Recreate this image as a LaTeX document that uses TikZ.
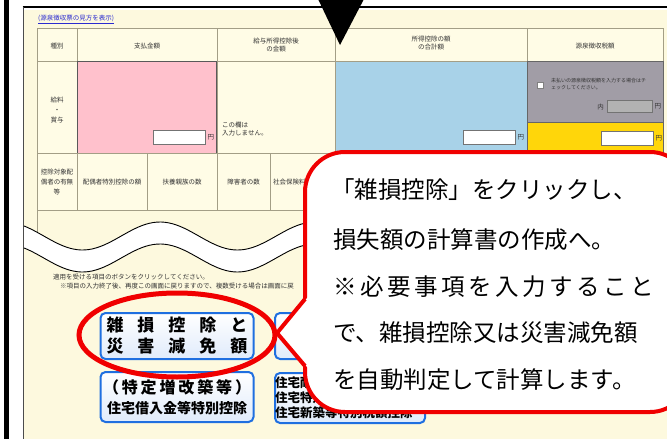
\documentclass[tikz,border=0pt]{standalone}
\usepackage{fontspec}
\newfontfamily\jp{Noto Sans CJK JP}
\usetikzlibrary{positioning}

\definecolor{panelcream}{HTML}{FDF9DE}
\definecolor{cellcream}{HTML}{FFFCE6}
\definecolor{gridline}{HTML}{A39E86}
\definecolor{paypink}{HTML}{FFC1CC}
\definecolor{dedblue}{HTML}{A8D2E8}
\definecolor{taxgray}{HTML}{A19DA6}
\definecolor{taxyellow}{HTML}{FFD60A}
\definecolor{linkblue}{HTML}{2B2BD0}
\definecolor{btnblue}{HTML}{1F6FE0}
\definecolor{markred}{HTML}{F00000}

\tikzset{
  cell/.style={draw=gridline, line width=0.8pt},
  tiny/.style={font=\jp\fontsize{6.5}{8.5}\selectfont, text=black!80, inner sep=0pt, align=center},
  inbox/.style={draw=black!55, fill=white, line width=0.8pt, minimum width=52pt, minimum height=14pt, inner sep=0pt},
  button/.style={draw=btnblue, line width=2pt, rounded corners=5pt, top color=white, bottom color=btnblue!14, inner sep=0pt, align=center},
  note/.style={font=\jp\fontsize{23.5}{23.5}\selectfont, inner sep=0pt, anchor=west},
  redline/.style={draw=markred, line width=4pt}
}

\begin{document}
\begin{tikzpicture}[x=1pt, y=-1pt]
  % Size of the screenshot
  \useasboundingbox (0,0) rectangle (667,439);
  \fill[white] (0,0) rectangle (667,439);

  % Frame of the screen
  \fill[black] (4,0) rectangle (8.5,439);
  \fill[panelcream] (23,10) rectangle (667,439);
  \draw[black, line width=1.6pt] (22.5,7) -- (667,7);
  \draw[black!70, line width=1pt] (23,7) -- (23,439);

  % Link above the table
  \node[tiny, text=linkblue, anchor=west] (srcLink) at (38,19) {\underline{(源泉徴収票の見方を表示)}};

  % Header row
  \foreach \xa/\xb in {37/77, 77/217, 217/335, 335/527, 527/663}
    \draw[cell, fill=cellcream] (\xa,28) rectangle (\xb,61);
  \node[tiny] (hKind) at (57,46) {種別};
  \node[tiny] (hPay) at (147,46) {支払金額};
  \node[tiny] (hAfter) at (276,45) {給与所得控除後\\の金額};
  \node[tiny] (hDed) at (431,43) {所得控除の額\\の合計額};
  \node[tiny] (hTax) at (595,46) {源泉徴収税額};

  % Body row
  \draw[cell, fill=cellcream] (37,61) rectangle (77,153);
  \draw[cell, fill=cellcream] (217,61) rectangle (335,153);
  \draw[draw=black!65, line width=0.8pt, fill=paypink] (77,61) rectangle (216,153);
  \draw[cell, fill=dedblue] (335,61) rectangle (527,153);
  \draw[draw=black!60, line width=0.8pt, fill=taxgray] (527,61) rectangle (663,122);
  \draw[draw=black!60, line width=0.8pt, fill=taxyellow] (527,122) rectangle (663,153);
  \node[tiny, font=\jp\fontsize{6.5}{10}\selectfont] (kindSalary) at (57,110) {給料\\・\\賞与};
  \node[tiny, anchor=west, align=left] (noInput) at (222,129) {この欄は\\入力しません。};

  % Input boxes
  \node[inbox] (payBox) at (179,137) {};
  \node[tiny, right=2pt of payBox] (payYen) {円};
  \node[inbox] (dedBox) at (489,137) {};
  \node[tiny, right=2pt of dedBox] (dedYen) {円};
  \node[inbox] (taxBox) at (627,138) {};
  \node[tiny, right=2pt of taxBox] (taxYen) {円};

  % Unpaid tax in the gray cell
  \node[draw=black!50, fill=white, minimum size=6pt, inner sep=0pt] (unpaidChk) at (540,85) {};
  \node[tiny, font=\jp\fontsize{5}{7}\selectfont, anchor=west, align=left] (unpaidText) at (551,84) {未払いの源泉徴収税額を入力する場合はチ\\ェックしてください。};
  \node[tiny, anchor=east] (unpaidIn) at (604,107) {内};
  \node[inbox, fill=black!30, minimum width=45pt, minimum height=12pt] (unpaidBox) at (629.5,106.5) {};
  \node[tiny, right=2pt of unpaidBox] (unpaidYen) {円};

  % Second header row
  \foreach \xa/\xb in {37/77, 77/147, 147/217, 217/270, 270/335, 335/527, 527/663}
    \draw[cell, fill=cellcream] (\xa,153) rectangle (\xb,210);
  \draw[cell] (37,210) -- (37,236);
  \node[tiny, font=\jp\fontsize{6.5}{10}\selectfont] (hSpouse) at (57,182) {控除対象配\\偶者の有無\\等};
  \node[tiny] (hSpecial) at (112,182) {配偶者特別控除の額};
  \node[tiny] (hFamily) at (182,182) {扶養親族の数};
  \node[tiny] (hDisabled) at (243.5,182) {障害者の数};
  \node[tiny, anchor=west] (hSocial) at (273,182) {社会保険料等の金額};

  % Wavy cut through the page
  \def\wk{2.3226}
  \fill[white] plot[domain=24:667, samples=170] (\x,{236-14*cos(\wk*(\x-160))})
    -- plot[domain=667:24, samples=170] (\x,{258-14*cos(\wk*(\x-160))}) -- cycle;
  \draw[line width=0.9pt] plot[domain=24:667, samples=170] (\x,{236-14*cos(\wk*(\x-160))});
  \draw[line width=0.9pt] plot[domain=24:667, samples=170] (\x,{258-14*cos(\wk*(\x-160))});

  % Hints above the buttons
  \node[tiny, anchor=west] (hintA) at (53,277) {適用を受ける項目のボタンをクリックしてください。};
  \node[tiny, anchor=west] (hintB) at (60,286) {※項目の入力終了後、再度この画面に戻りますので、複数受ける場合は画面に戻};

  % Buttons
  \node[button, minimum width=153pt, minimum height=46pt, font=\jp\bfseries\fontsize{17}{21}\selectfont] (btnLoss) at (177,336)
    {\makebox[141pt][s]{雑 損 控 除 と}\\\makebox[141pt][s]{災 害 減 免 額}};
  \node[button, minimum width=153pt, minimum height=50pt, font=\jp\bfseries\fontsize{16}{20}\selectfont] (btnLoan) at (177,397)
    {\makebox[148pt][s]{（ 特 定 増 改 築 等 ）}\\\fontsize{14}{14}\selectfont 住宅借入金等特別控除};
  \node[button, minimum width=70pt, minimum height=46pt] (btnMed) at (310,336) {};
  \node[button, minimum width=150pt, minimum height=50pt, align=left, font=\jp\bfseries\fontsize{12.5}{15}\selectfont] (btnHouse) at (350,398)
    {住宅耐震改修特別控除\\住宅特定改修特別税額控除\\住宅新築等特別税額控除};

  % Ring round the first button
  \draw[markred, line width=5pt] (177,335) ellipse [x radius=98pt, y radius=42pt];

  % Callout with its pointer
  \filldraw[redline, fill=white, rounded corners=40pt] (305,152) rectangle (690,412);
  \fill[white] (308,297) -- (277,333) -- (308,368) -- cycle;
  \draw[redline, line join=round] (305,299) -- (277,333) -- (305,366);
  \node[note] (noteA) at (331,190) {「雑損控除」をクリックし、};
  \node[note] (noteB) at (333,240) {損失額の計算書の作成へ。};
  \node[note] (noteC) at (333,287) {\makebox[316pt][s]{※ 必 要 事 項 を 入 力 す る こ と}};
  \node[note] (noteD) at (333,333) {で、雑損控除又は災害減免額};
  \node[note] (noteE) at (333,380) {を自動判定して計算します。};

  % Arrow head at the top
  \fill[black] (318,-1) -- (364,-1) -- (340,45) -- cycle;
\end{tikzpicture}
\end{document}
